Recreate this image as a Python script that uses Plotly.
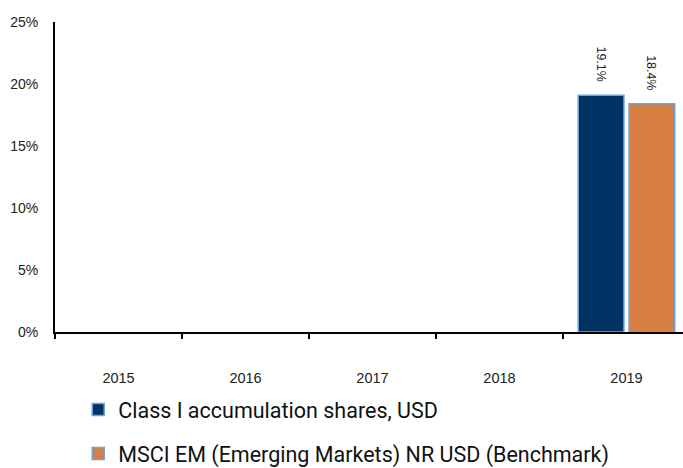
import plotly.graph_objects as go

years = ["2015", "2016", "2017", "2018", "2019"]
fund_name = "Class I accumulation shares, USD"
bench_name = "MSCI EM (Emerging Markets) NR USD (Benchmark)"
fund_values = [None, None, None, None, 19.1]
bench_values = [None, None, None, None, 18.4]
fund_labels = ["", "", "", "", "19.1%"]
bench_labels = ["", "", "", "", "18.4%"]
y_ticks = [0, 5, 10, 15, 20, 25]
y_tick_labels = ["0%", "5%", "10%", "15%", "20%", "25%"]

fig = go.Figure()
fig.add_trace(go.Bar(
    x=years, y=fund_values, name=fund_name, legendgroup="a",
    text=fund_labels, texttemplate="%{text}\u00a0\u00a0\u00a0", textposition="outside", textangle=90,
    textfont=dict(size=14, color="#222222", family="Arial"),
    cliponaxis=False,
    marker=dict(color="#003363", line=dict(color="#6fa3dc", width=1.5)),
))
fig.add_trace(go.Bar(
    x=years, y=bench_values, name=bench_name, legendgroup="b",
    text=bench_labels, texttemplate="%{text}\u00a0\u00a0\u00a0", textposition="outside", textangle=90,
    textfont=dict(size=14, color="#222222", family="Arial"),
    cliponaxis=False,
    marker=dict(color="#d77e42", line=dict(color="#6fa3dc", width=1.5)),
))

fig.update_layout(
    width=683, height=468,
    margin=dict(l=55, r=0, t=22, b=136, autoexpand=False),
    paper_bgcolor="white", plot_bgcolor="white",
    barmode="group", bargap=0.2, bargroupgap=0.1,
    font=dict(family="Arial", size=13, color="#222222"),
    showlegend=True,
    legend=dict(
        orientation="v", x=0.037, xanchor="left", y=-0.184, yanchor="top",
        font=dict(family="Roboto", size=21.5, color="#111111"),
        tracegroupgap=13, bgcolor="rgba(0,0,0,0)",
    ),
    xaxis=dict(
        type="category", range=[-0.5, 4.445], automargin=False,
        showline=True, linecolor="black", linewidth=2,
        ticks="outside", tickson="boundaries", ticklen=5, tickwidth=2, tickcolor="black",
        showgrid=False, ticklabelstandoff=32,
        tickfont=dict(size=14.5, color="#222222", family="Arial"),
    ),
    yaxis=dict(
        range=[0, 25], tickvals=y_ticks, ticktext=y_tick_labels, automargin=False,
        showline=True, linecolor="black", linewidth=2,
        showgrid=False, zeroline=False, ticks="", ticklabelstandoff=12,
        tickfont=dict(size=14, color="#222222", family="Arial"),
    ),
)

fig.write_html("out.html", config={"displayModeBar": False},
               post_script="document.body.style.margin='0';")
